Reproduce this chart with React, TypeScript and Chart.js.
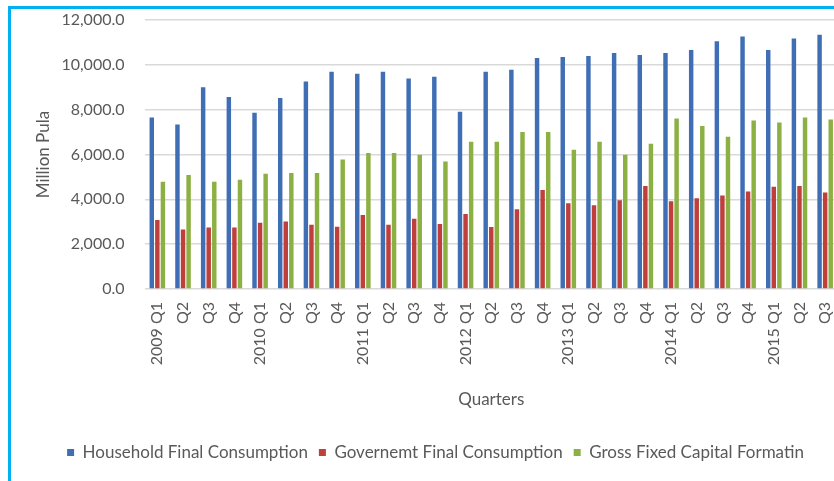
import { useEffect, useRef } from "react";
import { Chart, registerables } from "chart.js";

Chart.register(...registerables);

const categories = [
  "2009 Q1", "Q2", "Q3", "Q4",
  "2010 Q1", "Q2", "Q3", "Q4",
  "2011 Q1", "Q2", "Q3", "Q4",
  "2012 Q1", "Q2", "Q3", "Q4",
  "2013 Q1", "Q2", "Q3", "Q4",
  "2014 Q1", "Q2", "Q3", "Q4",
  "2015 Q1", "Q2", "Q3",
];

const household = [
  7650, 7340, 9000, 8560,
  7860, 8520, 9260, 9690,
  9600, 9690, 9390, 9470,
  7910, 9690, 9780, 10300,
  10350, 10390, 10530, 10440,
  10530, 10660, 11050, 11260,
  10660, 11170, 11340,
];

const government = [
  3080, 2650, 2740, 2740,
  2960, 3010, 2870, 2780,
  3300, 2870, 3130, 2900,
  3350, 2770, 3560, 4420,
  3830, 3740, 3960, 4600,
  3920, 4050, 4170, 4350,
  4560, 4600, 4300,
];

const capital = [
  4780, 5090, 4780, 4870,
  5140, 5180, 5180, 5780,
  6070, 6070, 5990, 5690,
  6570, 6570, 7000, 7000,
  6210, 6570, 5990, 6480,
  7610, 7270, 6790, 7520,
  7430, 7650, 7560,
];

const seriesNames = [
  "Household Final Consumption",
  "Governemt Final Consumption",
  "Gross Fixed Capital Formatin",
];

const yMin = 0;
const yMax = 12000;
const yStep = 2000;

const FONT = "Lato, 'Open Sans', sans-serif";
const TEXT = "#595959";

export default function App() {
  const ref = useRef<HTMLCanvasElement | null>(null);

  useEffect(() => {
    if (!ref.current) return;
    const chart = new Chart(ref.current, {
      type: "bar",
      data: {
        labels: categories,
        datasets: [
          { label: seriesNames[0], data: household, backgroundColor: "#3F6EB5" },
          { label: seriesNames[1], data: government, backgroundColor: "#BE3F3B" },
          { label: seriesNames[2], data: capital, backgroundColor: "#8CB043" },
        ],
      },
      options: {
        responsive: false,
        animation: false,
        layout: { padding: { left: 33, right: 22, top: 20, bottom: 10 } },
        datasets: {
          bar: { categoryPercentage: 0.65, barPercentage: 0.8 },
        },
        scales: {
          x: {
            grid: { display: false, drawTicks: false },
            border: { display: false },
            ticks: {
              autoSkip: false,
              maxRotation: 90,
              minRotation: 90,
              padding: 13,
              color: TEXT,
              font: { family: FONT, size: 16 },
            },
            title: {
              display: true,
              text: "Quarters",
              color: TEXT,
              font: { family: FONT, size: 17 },
              padding: { top: 0, bottom: 23 },
            },
            afterFit: (s: any) => {
              s.height = 144;
            },
          },
          y: {
            min: yMin,
            max: yMax,
            grid: { color: "#d9d9d9", lineWidth: 1.5, drawTicks: false },
            border: { display: false },
            ticks: {
              stepSize: yStep,
              padding: 20,
              color: TEXT,
              font: { family: FONT, size: 16 },
              callback: (v: any) =>
                Number(v).toLocaleString("en-US", {
                  minimumFractionDigits: 1,
                  maximumFractionDigits: 1,
                }),
            },
            title: {
              display: true,
              text: "Million Pula",
              color: TEXT,
              font: { family: FONT, size: 17 },
              padding: { top: 0, bottom: 0 },
            },
            afterFit: (s: any) => {
              s.width = 111.5;
              s.paddingTop = 9;
              s.paddingBottom = 9;
            },
          },
        },
        plugins: {
          legend: {
            position: "bottom",
            labels: {
              boxWidth: 7,
              boxHeight: 7,
              padding: 11,
              color: TEXT,
              font: { family: FONT, size: 17 },
            },
          },
          tooltip: { enabled: false },
        },
      },
    });
    return () => chart.destroy();
  }, []);

  return (
    <div
      style={{
        position: "fixed",
        left: 0,
        top: 0,
        width: 834,
        height: 481,
        overflow: "hidden",
        background: "#ffffff",
      }}
    >
      <div
        style={{
          position: "absolute",
          left: 8,
          top: 6,
          width: 900,
          height: 600,
          border: "3px solid #00B0F0",
          boxSizing: "border-box",
        }}
      />
      <canvas
        ref={ref}
        width={860}
        height={481}
        style={{ position: "absolute", left: 0, top: 0, width: 860, height: 481 }}
      />
    </div>
  );
}
